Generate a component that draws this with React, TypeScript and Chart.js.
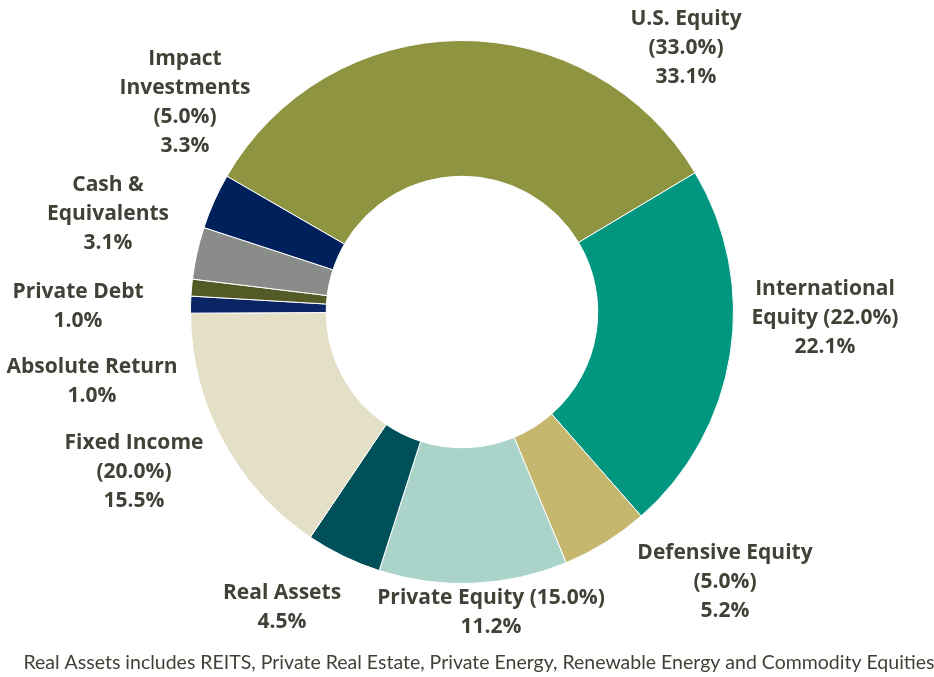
import React, { useEffect, useRef } from "react";
import { Chart, registerables } from "chart.js";

Chart.register(...registerables);

const categories = [
  "U.S. Equity",
  "International Equity",
  "Defensive Equity",
  "Private Equity",
  "Real Assets",
  "Fixed Income",
  "Absolute Return",
  "Private Debt",
  "Cash & Equivalents",
  "Impact Investments",
];
const actualValues = [33.1, 22.1, 5.2, 11.2, 4.5, 15.5, 1.0, 1.0, 3.1, 3.3];
const targetValues = [33.0, 22.0, 5.0, 15.0, null, 20.0, null, null, null, 5.0];
const sliceColors = [
  "#8E9440",
  "#00967F",
  "#C6B76E",
  "#AAD4CA",
  "#00505A",
  "#E4E0C8",
  "#0B2464",
  "#545A26",
  "#8A8C8A",
  "#00205C",
];
const footnote =
  "Real Assets includes REITS, Private Real Estate, Private Energy, Renewable Energy and Commodity Equities";

const pct = (v: number) => `${v.toFixed(1)}%`;
const tgt = (i: number) => `(${pct(targetValues[i] as number)})`;

// label text lines
const labelLines: string[][] = [
  ["U.S. Equity", tgt(0), pct(actualValues[0])],
  ["International", `Equity ${tgt(1)}`, pct(actualValues[1])],
  ["Defensive Equity", tgt(2), pct(actualValues[2])],
  [`Private Equity ${tgt(3)}`, pct(actualValues[3])],
  ["Real Assets", pct(actualValues[4])],
  ["Fixed Income", tgt(5), pct(actualValues[5])],
  ["Absolute Return", pct(actualValues[6])],
  ["Private Debt", pct(actualValues[7])],
  ["Cash &", "Equivalents", pct(actualValues[8])],
  ["Impact", "Investments", tgt(9), pct(actualValues[9])],
];
// layout: label anchor (center x, first line center y)
const labelAnchors: [number, number][] = [
  [686, 19],
  [825, 289],
  [725, 553],
  [491, 598],
  [282, 593],
  [134, 443],
  [92, 367],
  [78, 292],
  [108, 185],
  [185, 59],
];

const TEXT_COLOR = "#3F4236";
const LINE_H = 29;

const labelPlugin = {
  id: "outsideLabels",
  afterDraw(chart: any) {
    const ctx = chart.ctx;
    ctx.save();
    ctx.fillStyle = TEXT_COLOR;
    ctx.textAlign = "center";
    ctx.textBaseline = "middle";
    ctx.font = "bold 21px 'Open Sans', sans-serif";
    labelLines.forEach((lines, i) => {
      const [x, y] = labelAnchors[i];
      lines.forEach((line, j) => ctx.fillText(line, x, y + j * LINE_H));
    });
    ctx.font = "19.5px Lato, sans-serif";
    ctx.fillText(footnote, 479, 663);
    ctx.restore();
  },
};

export default function App() {
  const ref = useRef<HTMLCanvasElement>(null);
  useEffect(() => {
    document.body.style.margin = "0";
    const chart = new Chart(ref.current as HTMLCanvasElement, {
      type: "doughnut",
      data: {
        labels: categories,
        datasets: [
          {
            data: actualValues,
            backgroundColor: sliceColors,
            borderColor: "#FFFFFF",
            borderWidth: 1,
          },
        ],
      },
      options: {
        responsive: false,
        animation: false,
        cutout: "50%",
        rotation: -60,
        layout: { padding: { top: 40, bottom: 93, left: 100, right: 110 } },
        plugins: {
          legend: { display: false },
          tooltip: { enabled: false },
        },
      },
      plugins: [labelPlugin],
    });
    return () => chart.destroy();
  }, []);
  return (
    <div style={{ width: 934, height: 677, background: "#fff" }}>
      <canvas ref={ref} width={934} height={677} style={{ display: "block" }} />
    </div>
  );
}
